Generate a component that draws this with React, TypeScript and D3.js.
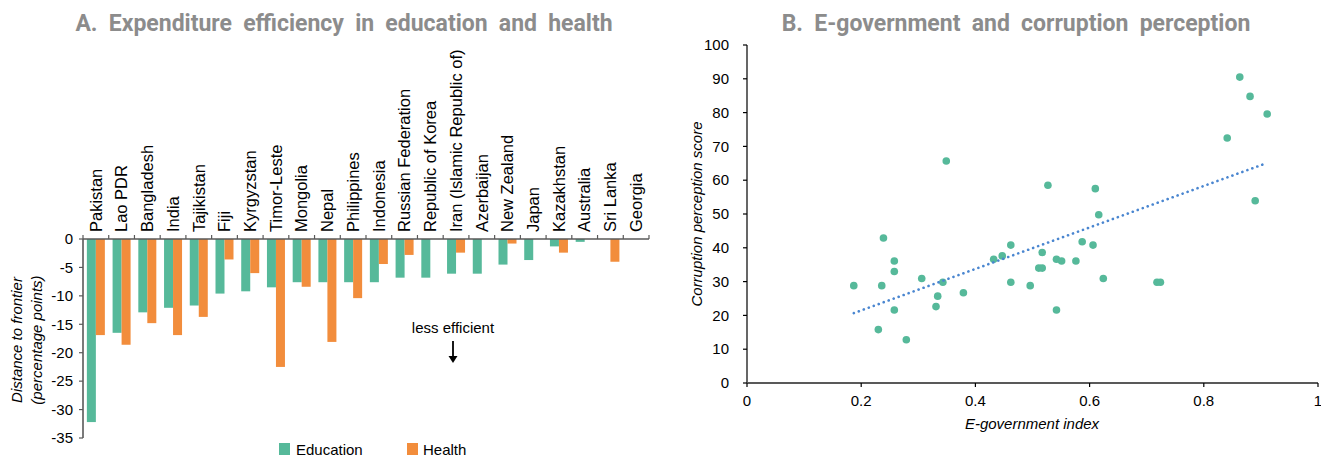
import React from "react";
import * as d3 from "d3";

// Panel A: distance to the efficiency frontier (percentage points)
const countries = [
  "Pakistan", "Lao PDR", "Bangladesh", "India", "Tajikistan", "Fiji", "Kyrgyzstan",
  "Timor-Leste", "Mongolia", "Nepal", "Philippines", "Indonesia", "Russian Federation",
  "Republic of Korea", "Iran (Islamic Republic of)", "Azerbaijan", "New Zealand", "Japan",
  "Kazakhstan", "Australia", "Sri Lanka", "Georgia",
];
const education: (number | null)[] = [
  -32.2, -16.5, -12.9, -12.1, -11.7, -9.6, -9.2, -8.5, -7.6, -7.6, -7.6, -7.6, -6.8,
  -6.8, -6.1, -6.1, -4.5, -3.7, -1.3, -0.5, null, null,
];
const health: (number | null)[] = [
  -16.9, -18.6, -14.8, -16.9, -13.7, -3.6, -6.0, -22.5, -8.4, -18.1, -10.4, -4.4, -2.8,
  null, -2.4, null, -0.8, null, -2.4, null, -4.0, null,
];
const barTicks = [0, -5, -10, -15, -20, -25, -30, -35];

// Panel B: e-government index vs corruption perception score
const egovIndex = [
  0.187, 0.239, 0.258, 0.258, 0.236, 0.258, 0.230, 0.279, 0.306, 0.334, 0.331, 0.343,
  0.349, 0.379, 0.432, 0.447, 0.462, 0.462, 0.496, 0.511, 0.517, 0.517, 0.527, 0.542,
  0.551, 0.542, 0.576, 0.587, 0.606, 0.610, 0.616, 0.624, 0.718, 0.724, 0.841, 0.863,
  0.881, 0.890, 0.911,
];
const cpiScore = [
  28.8, 42.9, 36.1, 33.0, 28.8, 21.6, 15.8, 12.8, 30.9, 25.7, 22.6, 29.8, 65.7, 26.7,
  36.6, 37.6, 40.8, 29.8, 28.8, 34.0, 34.0, 38.6, 58.5, 36.6, 36.1, 21.6, 36.1, 41.8,
  40.8, 57.5, 49.8, 30.9, 29.8, 29.8, 72.5, 90.5, 84.8, 53.9, 79.6,
];
const scatterXTicks = [0, 0.2, 0.4, 0.6, 0.8, 1];
const scatterYTicks = [0, 10, 20, 30, 40, 50, 60, 70, 80, 90, 100];

const EDU = "#56b99a";
const HEALTH = "#f28d3c";
const AXIS = "#595959";
const TITLE = "#8c8c8c";
const FONT = "'Liberation Sans', Arial, sans-serif";

export default function App() {
  // Panel A scales
  const xBand = d3.scaleBand<string>().domain(countries).range([83, 649]);
  const yBar = d3.scaleLinear().domain([0, -35]).range([239, 438]);
  const barW = 9;
  const gap = (xBand.bandwidth() - 2 * barW) / 2;

  // Panel B scales
  const xs = d3.scaleLinear().domain([0, 1]).range([747, 1318]);
  const ys = d3.scaleLinear().domain([0, 100]).range([383, 45]);

  // Least-squares trend line
  const n = egovIndex.length;
  const mx = d3.mean(egovIndex)!;
  const my = d3.mean(cpiScore)!;
  let sxy = 0, sxx = 0;
  for (let i = 0; i < n; i++) {
    sxy += (egovIndex[i] - mx) * (cpiScore[i] - my);
    sxx += (egovIndex[i] - mx) ** 2;
  }
  const slope = sxy / sxx;
  const intercept = my - slope * mx;
  const [xMin, xMax] = d3.extent(egovIndex) as [number, number];
  const trend = d3.line<number>().x((v) => xs(v)).y((v) => ys(intercept + slope * v))([xMin, xMax]);

  return (
    <svg width={1321} height={457} style={{ position: "absolute", left: 0, top: 0, background: "#fff" }}
      fontFamily={FONT}>
      {/* Titles */}
      <text x={344} y={31} textAnchor="middle" fontFamily="Roboto, sans-serif" fontWeight="bold"
        fontSize={23} fill={TITLE} wordSpacing={5.5}>
        A. Expenditure efficiency in education and health
      </text>
      <text x={1016} y={31} textAnchor="middle" fontFamily="Roboto, sans-serif" fontWeight="bold"
        fontSize={23} fill={TITLE} wordSpacing={5.5}>
        B. E-government and corruption perception
      </text>

      {/* Panel A bars */}
      {countries.map((c, i) => {
        const x0 = xBand(c)!;
        const e = education[i];
        const h = health[i];
        return (
          <g key={c}>
            {e !== null && (
              <rect x={x0 + gap} y={yBar(0)} width={barW} height={yBar(e) - yBar(0)} fill={EDU} />
            )}
            {h !== null && (
              <rect x={x0 + gap + barW} y={yBar(0)} width={barW} height={yBar(h) - yBar(0)} fill={HEALTH} />
            )}
            <text transform={`translate(${x0 + xBand.bandwidth() / 2 + 5.8},232) rotate(-90)`}
              fontSize={16.5} fill="#000">{c}</text>
          </g>
        );
      })}

      {/* Panel A axes */}
      <line x1={83} x2={649} y1={239} y2={239} stroke={AXIS} strokeWidth={1.6} />
      {[...countries.map((c) => xBand(c)!), 649].map((x, i) => (
        <line key={i} x1={x} x2={x} y1={239} y2={235} stroke={AXIS} strokeWidth={1.2} />
      ))}
      <line x1={83} x2={83} y1={239} y2={438} stroke={AXIS} strokeWidth={1.6} />
      {barTicks.map((t) => (
        <g key={t}>
          <line x1={79} x2={83} y1={yBar(t)} y2={yBar(t)} stroke={AXIS} strokeWidth={1.2} />
          <text x={73} y={yBar(t)} dy="0.35em" textAnchor="end" fontSize={15} fill="#000">{t}</text>
        </g>
      ))}
      <text transform="translate(22,340) rotate(-90)" textAnchor="middle" fontSize={15} fontStyle="italic">
        Distance to frontier
      </text>
      <text transform="translate(42,340) rotate(-90)" textAnchor="middle" fontSize={15} fontStyle="italic">
        (percentage points)
      </text>

      {/* Annotation */}
      <text x={453} y={333} textAnchor="middle" fontSize={15} fill="#000">less efficient</text>
      <line x1={453} x2={453} y1={341} y2={358} stroke="#000" strokeWidth={1.8} />
      <path d="M448.5,356 L457.5,356 L453,363 Z" fill="#000" />

      {/* Legend */}
      <rect x={279} y={443} width={11} height={12} fill={EDU} />
      <text x={296} y={455} fontSize={15}>Education</text>
      <rect x={407} y={443} width={11} height={12} fill={HEALTH} />
      <text x={423} y={455} fontSize={15}>Health</text>

      {/* Panel B axes */}
      <line x1={747} x2={747} y1={45} y2={383} stroke="#000" strokeWidth={1.2} />
      {scatterYTicks.map((t) => (
        <g key={t}>
          <line x1={743} x2={747} y1={ys(t)} y2={ys(t)} stroke="#000" strokeWidth={1.2} />
          <text x={729} y={ys(t)} dy="0.35em" textAnchor="end" fontSize={15}>{t}</text>
        </g>
      ))}
      <line x1={747} x2={1318} y1={383} y2={383} stroke={AXIS} strokeWidth={2} />
      {scatterXTicks.map((t) => (
        <g key={t}>
          <line x1={xs(t)} x2={xs(t)} y1={383} y2={387} stroke="#000" strokeWidth={1.2} />
          <text x={xs(t)} y={406} textAnchor="middle" fontSize={15}>{t}</text>
        </g>
      ))}
      <text x={1032} y={429} textAnchor="middle" fontSize={15} fontStyle="italic">E-government index</text>
      <text transform="translate(702,214) rotate(-90)" textAnchor="middle" fontSize={15} fontStyle="italic">
        Corruption perception score
      </text>

      {/* Points and trend */}
      {egovIndex.map((v, i) => (
        <circle key={i} cx={xs(v)} cy={ys(cpiScore[i])} r={3.8} fill={EDU} />
      ))}
      <path d={trend ?? ""} fill="none" stroke="#4a86d0" strokeWidth={2.6}
        strokeDasharray="0.1 5.2" strokeLinecap="round" />
    </svg>
  );
}
